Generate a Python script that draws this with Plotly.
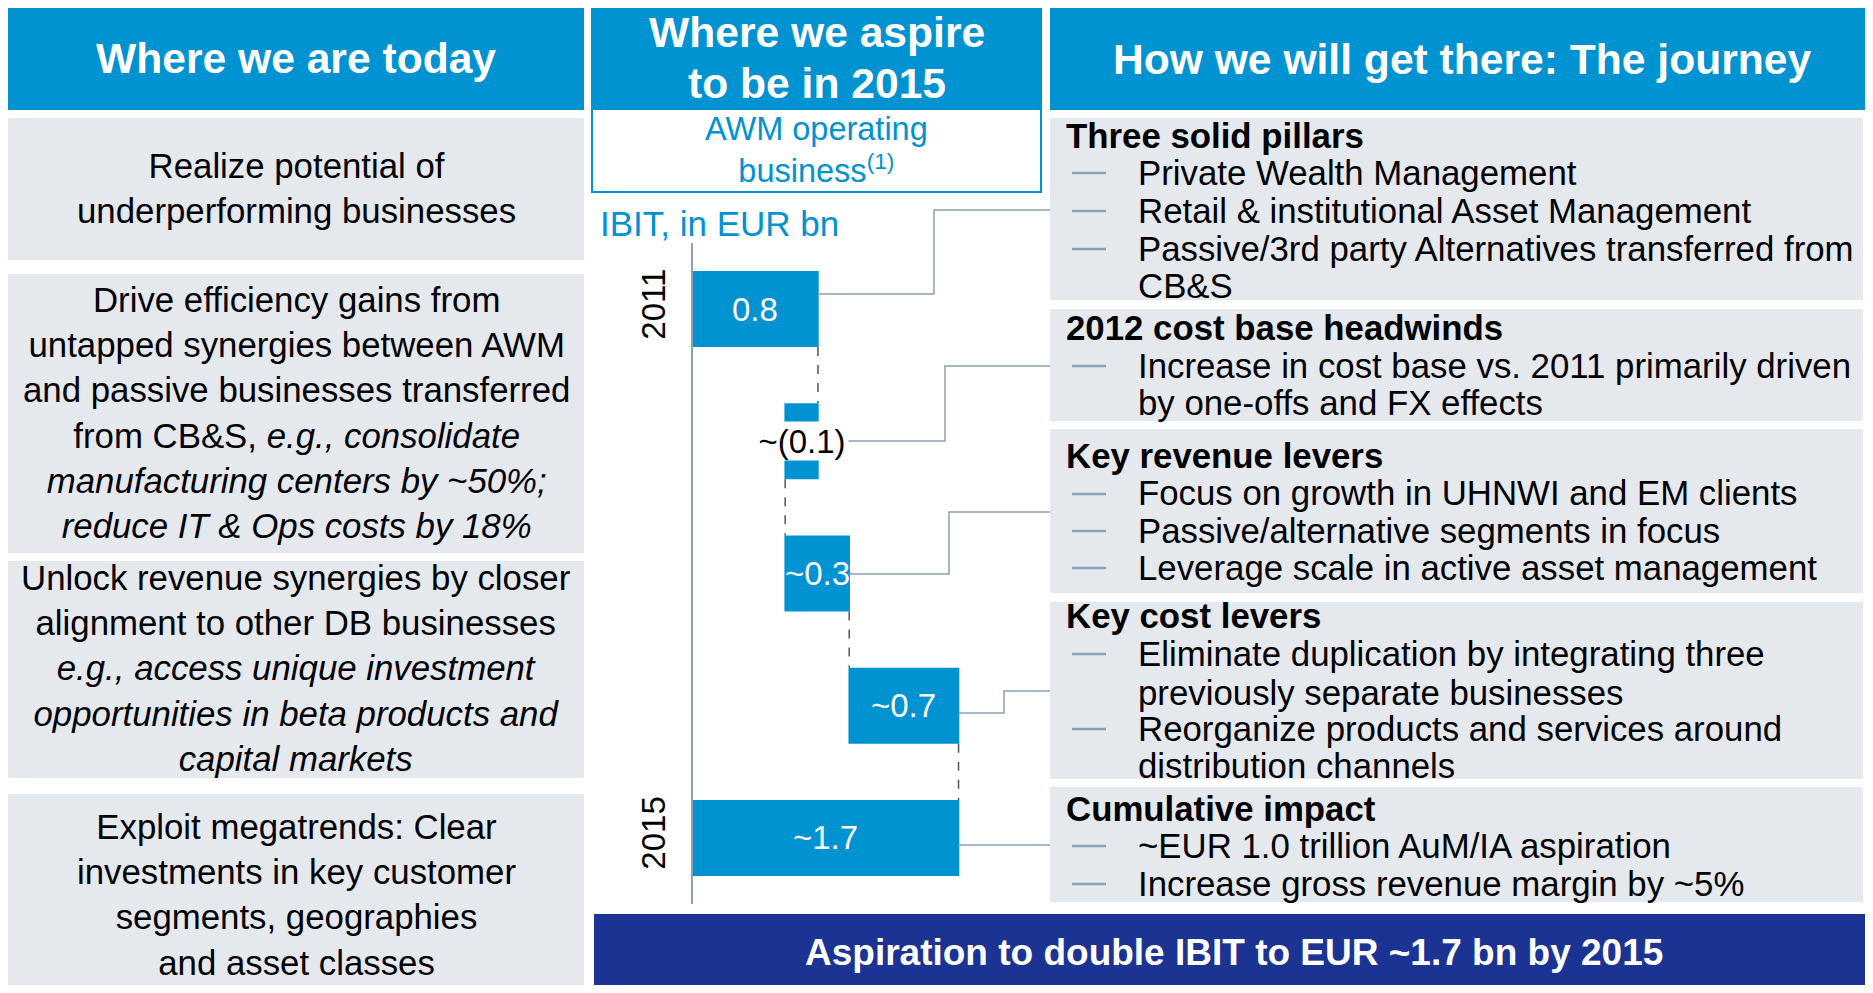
import plotly.graph_objects as go

W, H = 1857, 977  # figure size; the page adds an 8 px body margin around it

# ---------------- data ----------------
categories = ["2011", "2012 cost base headwinds", "Key revenue levers", "Key cost levers", "2015"]
measures = ["absolute", "relative", "relative", "relative", "total"]
values = [0.8, -0.21, 0.41, 0.70, 1.7]
bar_labels = ["0.8", "~(0.1)", "~0.3", "~0.7", "~1.7"]
tick_labels = ["2011", "2015"]

left_header = "Where we are today"
mid_header = ["Where we aspire", "to be in 2015"]
mid_sub = "AWM operating<br>business<sup>(1)</sup>"
unit_label = "IBIT, in EUR bn"
right_header = "How we will get there: The journey"
banner = "Aspiration to double IBIT to EUR ~1.7 bn by 2015"

left_texts = [
    "Realize potential of<br>underperforming businesses",
    "Drive efficiency gains from<br>untapped synergies between AWM<br>and passive businesses transferred<br>"
    "from CB&S, <i>e.g., consolidate</i><br><i>manufacturing centers by ~50%;</i><br><i>reduce IT & Ops costs by 18%</i>",
    "Unlock revenue synergies by closer<br>alignment to other DB businesses<br><i>e.g., access unique investment</i><br>"
    "<i>opportunities in beta products and</i><br><i>capital markets</i>",
    "Exploit megatrends: Clear<br>investments in key customer<br>segments, geographies<br>and asset classes",
]

# right column: (kind, text)  h = heading, b = bullet, c = continuation
right_lines = [
    [("h", "Three solid pillars"), ("b", "Private Wealth Management"),
     ("b", "Retail & institutional Asset Management"),
     ("b", "Passive/3rd party Alternatives transferred from"), ("c", "CB&S")],
    [("h", "2012 cost base headwinds"), ("b", "Increase in cost base vs. 2011 primarily driven"),
     ("c", "by one-offs and FX effects")],
    [("h", "Key revenue levers"), ("b", "Focus on growth in UHNWI and EM clients"),
     ("b", "Passive/alternative segments in focus"),
     ("b", "Leverage scale in active asset management")],
    [("h", "Key cost levers"), ("b", "Eliminate duplication by integrating three"),
     ("c", "previously separate businesses"), ("b", "Reorganize products and services around"),
     ("c", "distribution channels")],
    [("h", "Cumulative impact"), ("b", "~EUR 1.0 trillion AuM/IA aspiration"),
     ("b", "Increase gross revenue margin by ~5%")],
]

# ---------------- layout constants ----------------
BLUE = "#0092D1"
GRAY = "#E5E8ED"
NAVY = "#1B3392"
LINEC = "#8C9FB6"
FONT = "Liberation Sans, Arial, sans-serif"
OFF = 8  # page body margin
RIGHT_EDGE = OFF + W
BOTTOM_EDGE = OFF + H

def X(p):
    return (p - OFF) / W

def Y(p):
    return 1 - (p - OFF) / H

# plot area (pixels, page coordinates)
PX0, PX1 = 693, 1050
PY0, PY1 = 243, 904
PX_PER_UNIT = 156.2
XMAX = (PX1 - PX0) / PX_PER_UNIT

def val_to_px(v):
    return PX0 + v * PX_PER_UNIT

fig = go.Figure()
fig.add_trace(go.Waterfall(
    orientation="h",
    y=categories,
    x=values,
    measure=measures,
    increasing=dict(marker=dict(color=BLUE)),
    decreasing=dict(marker=dict(color=BLUE)),
    totals=dict(marker=dict(color=BLUE)),
    connector=dict(mode="between", line=dict(color="#555555", dash="dash", width=1.5)),
    textposition="none",
    hoverinfo="skip",
))

shapes = []
annotations = []

def rect(x0, y0, x1, y1, fill, line=None, lw=0):
    shapes.append(dict(type="rect", xref="paper", yref="paper",
                       x0=X(x0), x1=X(x1), y0=Y(y1), y1=Y(y0),
                       fillcolor=fill, line=dict(color=line or fill, width=lw),
                       layer="below"))

def text(x, y, t, size, color="black", xanchor="center", **kw):
    annotations.append(dict(xref="paper", yref="paper", x=X(x), y=Y(y), text=t,
                            showarrow=False, xanchor=xanchor, yanchor="middle",
                            font=dict(family=FONT, size=size, color=color), **kw))

HDR = 42.6
BODY = 34.8

# headers
rect(OFF, OFF, 584, 110, BLUE)
text(296, 58, "<b>" + left_header + "</b>", HDR, "white")
rect(591, OFF, 1042, 109, BLUE)
text(816.5, 32, "<b>" + mid_header[0] + "</b>", HDR, "white")
text(816.5, 83, "<b>" + mid_header[1] + "</b>", HDR, "white")
rect(592, 109, 1041, 192, "white", BLUE, 2)
text(816.5, 150, mid_sub, 32.5, BLUE)
rect(1050, OFF, RIGHT_EDGE, 110, BLUE)
text(1461.5, 59, "<b>" + right_header + "</b>", HDR, "white")

# left boxes
left_boxes = [(118, 260), (274, 553), (561, 778), (794, BOTTOM_EDGE)]
left_centers = [188, 412, 668, 894]
for (y0, y1), yc, t in zip(left_boxes, left_centers, left_texts):
    rect(OFF, y0, 584, y1, GRAY)
    text(296, yc, t, BODY)

# right boxes
right_boxes = [(118, 300), (309, 421), (429, 593), (602, 779), (787, 902)]
right_line_y = [
    [135, 172, 210, 248, 285],
    [327, 365, 402],
    [455, 493, 530, 567],
    [615, 653, 692, 728, 765],
    [808, 845, 883],
]
for (y0, y1), ys, lines in zip(right_boxes, right_line_y, right_lines):
    rect(1050, y0, RIGHT_EDGE - 2, y1, GRAY)
    for yy, (kind, t) in zip(ys, lines):
        if kind == "h":
            text(1064, yy, "<b>" + t + "</b>", BODY, xanchor="left")
        else:
            text(1136, yy, t, BODY, xanchor="left")
            if kind == "b":
                shapes.append(dict(type="line", xref="paper", yref="paper",
                                   x0=X(1072), x1=X(1106), y0=Y(yy + 1), y1=Y(yy + 1),
                                   line=dict(color=LINEC, width=2.5)))

# banner
rect(594, 914, RIGHT_EDGE, BOTTOM_EDGE, NAVY)
text(1233.5, 952, "<b>" + banner + "</b>", 37, "white")

# unit label
text(598, 223, unit_label, 35, BLUE, xanchor="left")

# bar labels (data coords)
cum = 0
starts, ends = [], []
for m, v in zip(measures, values):
    if m == "absolute":
        s, e = 0, v
    elif m == "relative":
        s, e = cum, cum + v
    else:
        s, e = 0, cum
    starts.append(s)
    ends.append(e)
    cum = e
for i, (cat, lab) in enumerate(zip(categories, bar_labels)):
    mid = (starts[i] + ends[i]) / 2
    if i == 1:
        annotations.append(dict(xref="x", yref="y", x=mid, y=i, text=lab, showarrow=False,
                                font=dict(family=FONT, size=33, color="black"),
                                bgcolor="white", borderpad=0, height=38, width=92))
    else:
        annotations.append(dict(xref="x", yref="y", x=mid, y=i, text=lab, showarrow=False,
                                font=dict(family=FONT, size=33, color="white")))

# leader lines from bars to the right-hand boxes
leader_y = [294, 441, 574, 713, 845]
elbow_x = [934, 945, 949, 1004, None]
target_y = [210, 366, 512, 691, 845]
extra = [0, 28, 0, 0, 0]
for i in range(5):
    sx = val_to_px(max(starts[i], ends[i])) + extra[i]
    if elbow_x[i] is None:
        path = f"M {X(sx)} {Y(leader_y[i])} L {X(1050)} {Y(leader_y[i])}"
    else:
        path = (f"M {X(sx)} {Y(leader_y[i])} L {X(elbow_x[i])} {Y(leader_y[i])} "
                f"L {X(elbow_x[i])} {Y(target_y[i])} L {X(1050)} {Y(target_y[i])}")
    shapes.append(dict(type="path", xref="paper", yref="paper", path=path,
                       line=dict(color=LINEC, width=1.5)))

fig.update_layout(
    width=W, height=H,
    margin=dict(l=0, r=0, t=0, b=0, pad=0),
    paper_bgcolor="white", plot_bgcolor="rgba(0,0,0,0)",
    showlegend=False,
    waterfallgap=0.425,
    xaxis=dict(domain=[X(PX0), X(PX1)], range=[0, XMAX], visible=False, fixedrange=True,
               automargin=False),
    yaxis=dict(domain=[Y(PY1), Y(PY0)], type="category", categoryorder="array",
               categoryarray=categories, range=[4.5, -0.5], autorange=False,
               tickmode="array", tickvals=[0, 4], ticktext=tick_labels,
               tickangle=-90, ticks="", ticklabelstandoff=13, automargin=False,
               tickfont=dict(family=FONT, size=33, color="black"),
               showline=True, linecolor=LINEC, linewidth=2, showgrid=False, zeroline=False,
               fixedrange=True),
    shapes=shapes,
    annotations=annotations,
    font=dict(family=FONT),
)

fig.write_html("out.html")
